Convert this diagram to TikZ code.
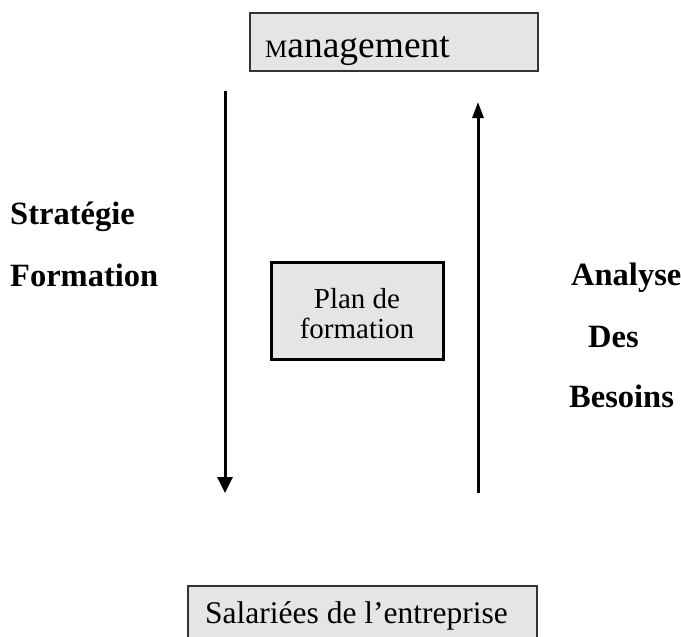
\documentclass[tikz,border=0pt]{standalone}
\usepackage{fontspec}
\setmainfont{Liberation Serif}
\usetikzlibrary{arrows.meta}
\begin{document}
\begin{tikzpicture}[x=1pt,y=-1pt,
  boxfill/.style={fill=black!10},
  thinbox/.style={boxfill,draw=black!80,line width=1.2pt},
  thickbox/.style={boxfill,draw=black,line width=3pt},
  flow/.style={line width=3pt,-{Triangle[length=16pt,width=15pt]}},
  lbl/.style={font=\fontsize{32.5}{32.5}\selectfont\bfseries,anchor=base west,inner sep=0pt}]
\useasboundingbox (0,0) rectangle (681,637);
% top box
\draw[thinbox] (250,13) rectangle (538,71);
\node[anchor=base west,inner sep=0pt] (mgmt) at (265,57)
  {{\fontsize{25}{25}\selectfont M}{\fontsize{37.5}{37.5}\selectfont anagement}};
% central box
\draw[thickbox] (271,262) rectangle (443,359);
\node[align=center,inner sep=0pt,font=\fontsize{29}{30}\selectfont] (plan) at (357,314) {Plan de\\formation};
% bottom box
\begin{scope}
\clip (0,0) rectangle (681,637);
\draw[thinbox] (188,586) rectangle (537,645);
\end{scope}
\node[anchor=base west,inner sep=0pt,font=\fontsize{31.5}{31.5}\selectfont] (sal) at (205,623) {Salariées de l’entreprise};
% arrows
\coordinate (dtop) at (225,91);
\coordinate (dbot) at (225,493);
\coordinate (ubot) at (478,493);
\coordinate (utop) at (478,102);
\draw[flow] (dtop) -- (dbot);
\draw[flow,-{Triangle[length=16pt,width=11pt]}] (ubot) -- (utop);
% side labels
\node[lbl] (s1) at (10,224) {Stratégie};
\node[lbl] (s2) at (10,286) {Formation};
\node[lbl] (a1) at (571,285) {Analyse};
\node[lbl] (a2) at (588,347) {Des};
\node[lbl] (a3) at (569,407) {Besoins};
\end{tikzpicture}
\end{document}
